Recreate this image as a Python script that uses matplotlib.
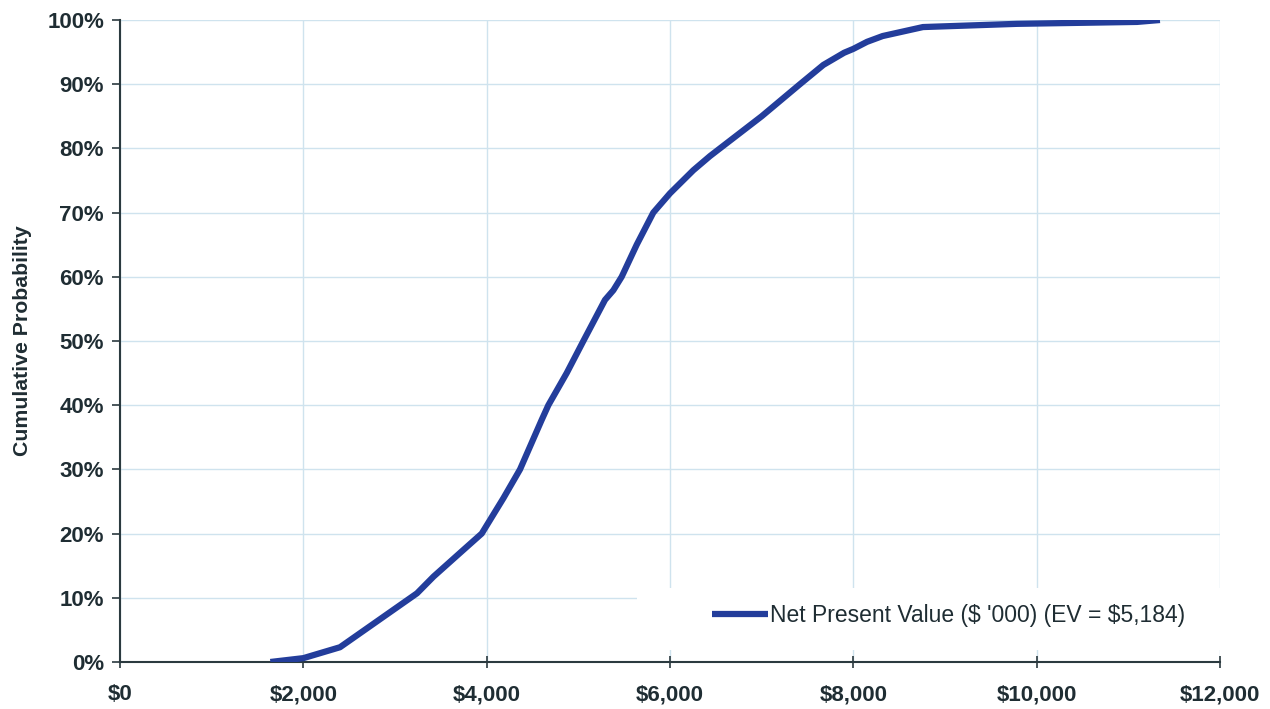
import matplotlib.pyplot as plt
from matplotlib.patches import Rectangle
from matplotlib.ticker import FuncFormatter

# NPV (thousand $) vs cumulative probability (%)
npv = [1640, 2000, 2400, 2510, 2870, 3240, 3420, 3710, 3946, 4182,
       4364, 4600, 4673, 4873, 5055, 5291, 5382, 5473, 5637, 5818,
       6000, 6255, 6436, 6545, 7000, 7418, 7673, 7900, 8000, 8150,
       8320, 8760, 9785, 11095, 11345]
cum_prob = [0.0, 0.6, 2.3, 3.4, 7.0, 10.7, 13.3, 17.0, 20.0, 25.5,
            30.0, 37.7, 40.0, 45.0, 50.0, 56.4, 57.9, 60.0, 65.0, 70.0,
            73.0, 76.6, 78.8, 80.0, 85.0, 90.0, 93.0, 94.9, 95.5, 96.6,
            97.5, 98.9, 99.4, 99.7, 100.0]

x_ticks = list(range(0, 12001, 2000))
y_ticks = list(range(0, 101, 10))
series_label = "Net Present Value (\\$ '000) (EV = \\$5,184)"

plt.rcParams['font.family'] = ['Liberation Sans', 'DejaVu Sans']

fig = plt.figure(figsize=(12.7, 7.09), dpi=100)
ax = fig.add_axes([0.0945, 0.0663, 0.8661, 0.9055])

ax.plot(npv, cum_prob, color='#233d9b', lw=4.5, solid_capstyle='butt',
        solid_joinstyle='round', label=series_label, zorder=3)

ax.set_xlim(0, 12000)
ax.set_ylim(0, 100)
ax.set_xticks(x_ticks)
ax.set_yticks(y_ticks)
ax.xaxis.set_major_formatter(FuncFormatter(lambda v, p: '${:,.0f}'.format(v)))
ax.yaxis.set_major_formatter(FuncFormatter(lambda v, p: '{:.0f}%'.format(v)))

ax.grid(True, color='#cfe3ee', lw=1.0, zorder=0)
ax.set_axisbelow(True)
ax.spines['top'].set_visible(False)
ax.spines['right'].set_visible(False)
for s in ['left', 'bottom']:
    ax.spines[s].set_color('#2b3a3f')
    ax.spines[s].set_linewidth(1.5)

ax.tick_params(axis='y', direction='out', length=6, width=1.2, color='#2b3a3f',
               labelsize=16, labelcolor='#1f2d33', pad=5.5)
ax.tick_params(axis='x', direction='inout', length=8, width=1.2, color='#2b3a3f',
               labelsize=16, labelcolor='#1f2d33', pad=12)
for lab in ax.get_xticklabels() + ax.get_yticklabels():
    lab.set_fontweight('bold')

ax.set_ylabel('Cumulative Probability', fontsize=15.3, fontweight='bold',
              color='#1f2d33', labelpad=11)

# white box behind the legend, hiding the grid there
ax.add_patch(Rectangle((0.47, 0.019), 0.53, 0.096, transform=ax.transAxes,
                       facecolor='white', edgecolor='none', zorder=2))

leg = ax.legend(loc='center left', bbox_to_anchor=(0.538, 0.073), frameon=False,
                fontsize=16.5, handlelength=2.45, handletextpad=0.1,
                borderpad=0, borderaxespad=0)
for t in leg.get_texts():
    t.set_color('#1f2d33')

plt.savefig('out.png', dpi=100)
plt.close()
